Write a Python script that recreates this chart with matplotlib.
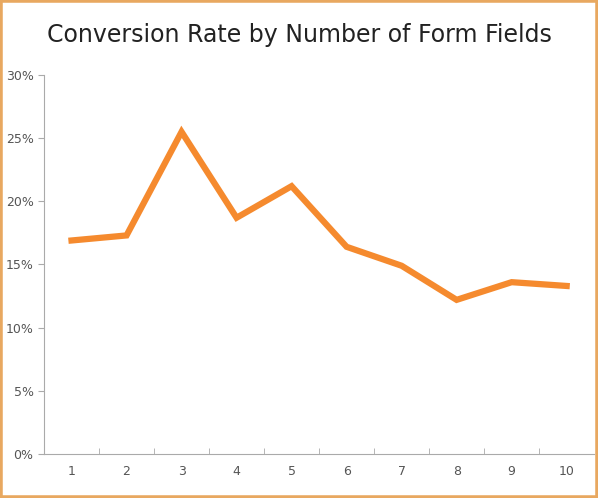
import matplotlib
matplotlib.use("Agg")
import matplotlib.pyplot as plt
from matplotlib.patches import Rectangle

fields = [1, 2, 3, 4, 5, 6, 7, 8, 9, 10]
rates = [16.9, 17.3, 25.5, 18.7, 21.2, 16.4, 14.9, 12.2, 13.6, 13.3]
yticks = [0, 5, 10, 15, 20, 25, 30]

fig = plt.figure(figsize=(5.98, 4.98), dpi=100)
ax = fig.add_axes([0.0736, 0.0884, 0.92, 0.761])
ax.plot(fields, rates, color="#F58A2E", lw=4.5, solid_joinstyle="miter")
ax.set_xlim(0.5, 10.5)
ax.set_ylim(0, 30)
ax.set_yticks(yticks)
ax.set_yticklabels([f"{v}%" for v in yticks])
ax.set_xticks(fields)
ax.set_xticks([x + 0.5 for x in fields[:-1]], minor=True)
ax.tick_params(axis="x", which="major", length=0, pad=8)
ax.tick_params(axis="x", which="minor", length=4, color="#aaaaaa", direction="in")
ax.tick_params(axis="y", length=4, color="#aaaaaa", labelsize=9, labelcolor="#555555")
ax.tick_params(axis="x", labelsize=9, labelcolor="#555555")
for s in ["top", "right"]:
    ax.spines[s].set_visible(False)
for s in ["left", "bottom"]:
    ax.spines[s].set_color("#aaaaaa")
fig.text(0.5, 0.93, "Conversion Rate by Number of Form Fields", ha="center", va="center",
         fontsize=17, color="#222222")
fig.patches.append(Rectangle((0, 0), 1, 1, transform=fig.transFigure, fill=False,
                             edgecolor="#E8A860", lw=4))
fig.savefig("out.png", dpi=100)
